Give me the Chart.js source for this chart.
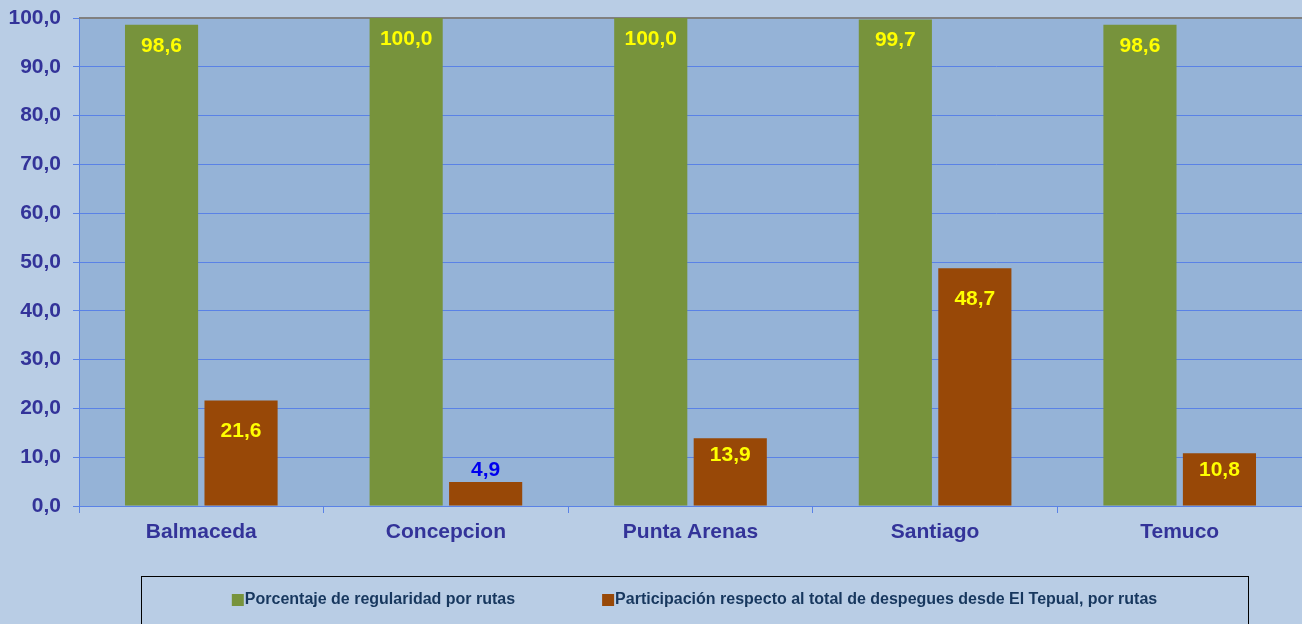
<!DOCTYPE html>
<html>
<head>
<meta charset="utf-8">
<script src="https://cdn.jsdelivr.net/npm/chart.js@4.4.0/dist/chart.umd.min.js"></script>
<style>
  html, body { margin: 0; padding: 0; background: #b9cde5; }
  #wrap { width: 1302px; height: 624px; position: relative; }
</style>
</head>
<body>
<div id="wrap"><canvas id="rutasChart"></canvas></div>
<script>
const categories = ['Balmaceda', 'Concepcion', 'Punta Arenas', 'Santiago', 'Temuco'];
const regularidad = [98.6, 100.0, 100.0, 99.7, 98.6];
const participacion = [21.6, 4.9, 13.9, 48.7, 10.8];
const seriesNames = [
    'Porcentaje de regularidad por rutas',
    'Participación respecto al total de despegues desde El Tepual, por rutas'
];

const FONT = '"Liberation Sans", Arial, sans-serif';
const axisColor = '#333399';
const gridColor = '#5a82e6';

const fmt = v => v.toFixed(1).replace('.', ',');

// plot area fill and grey top border
const plotBg = {
    id: 'plotBg',
    beforeDraw(chart) {
        const { ctx, chartArea: a } = chart;
        ctx.save();
        ctx.fillStyle = '#95b3d7';
        ctx.fillRect(a.left, a.top, a.right - a.left, a.bottom - a.top);
        ctx.restore();
    },
    beforeDatasetsDraw(chart) {
        const { ctx, chartArea: a } = chart;
        ctx.save();
        ctx.strokeStyle = '#808080';
        ctx.lineWidth = 2;
        ctx.beginPath();
        ctx.moveTo(a.left, a.top);
        ctx.lineTo(a.right, a.top);
        ctx.stroke();
        ctx.restore();
    }
};

// value labels on the bars
const barLabels = {
    id: 'barLabels',
    afterDatasetsDraw(chart) {
        const ctx = chart.ctx;
        ctx.save();
        ctx.font = 'bold 21px ' + FONT;
        ctx.textAlign = 'center';
        ctx.textBaseline = 'middle';
        chart.data.datasets.forEach((ds, i) => {
            chart.getDatasetMeta(i).data.forEach((bar, j) => {
                const h = bar.base - bar.y;
                let y, color = '#ffff00';
                if (i === 0) {
                    y = bar.y + 21;
                } else if (h > 70) {
                    y = bar.y + 31;
                } else if (h > 35) {
                    y = bar.y + 17;
                } else {
                    y = bar.y - 12;
                    color = '#0000ee';
                }
                ctx.fillStyle = color;
                ctx.fillText(fmt(ds.data[j]), bar.x, y);
            });
        });
        ctx.restore();
    }
};

// boxed legend below the axis
const boxLegend = {
    id: 'boxLegend',
    afterDraw(chart) {
        const ctx = chart.ctx;
        const box = { left: 141, right: 1248, top: 576 };
        ctx.save();
        ctx.strokeStyle = '#000000';
        ctx.lineWidth = 1;
        ctx.strokeRect(box.left + 0.5, box.top + 0.5, box.right - box.left, 80);
        ctx.font = 'bold 16px ' + FONT;
        ctx.textBaseline = 'middle';
        const sq = 12, gap = 1, spacing = 87;
        const widths = chart.data.datasets.map(ds => ctx.measureText(ds.label).width);
        const total = widths.reduce((s, w) => s + sq + gap + w, 0) + spacing;
        let x = (box.left + box.right) / 2 - total / 2;
        const cy = 600;
        chart.data.datasets.forEach((ds, i) => {
            ctx.fillStyle = ds.backgroundColor;
            ctx.fillRect(x, cy - sq / 2, sq, sq);
            x += sq + gap;
            ctx.fillStyle = '#17375e';
            ctx.textAlign = 'left';
            ctx.fillText(ds.label, x, cy);
            x += widths[i] + spacing;
        });
        ctx.restore();
    }
};

new Chart(document.getElementById('rutasChart').getContext('2d'), {
    type: 'bar',
    data: {
        labels: categories,
        datasets: [{
            label: seriesNames[0],
            data: regularidad,
            backgroundColor: '#77933c',
            categoryPercentage: 0.65,
            barPercentage: 0.92
        }, {
            label: seriesNames[1],
            data: participacion,
            backgroundColor: '#984807',
            categoryPercentage: 0.65,
            barPercentage: 0.92
        }]
    },
    options: {
        responsive: true,
        maintainAspectRatio: false,
        animation: false,
        layout: { padding: { top: 18, right: 0, bottom: 0, left: 0 } },
        plugins: {
            legend: { display: false },
            tooltip: { enabled: false }
        },
        scales: {
            x: {
                afterFit: s => { s.height = 118; s.paddingLeft = 0; s.paddingRight = 0; },
                grid: {
                    offset: true,
                    drawOnChartArea: false,
                    drawTicks: true,
                    tickLength: 7,
                    color: gridColor
                },
                border: { color: gridColor, width: 1 },
                ticks: {
                    color: axisColor,
                    font: { family: FONT, size: 21, weight: 'bold' },
                    padding: 7,
                    maxRotation: 0
                }
            },
            y: {
                min: 0,
                max: 100,
                afterFit: s => { s.width = 79; s.paddingTop = 0; s.paddingBottom = 0; },
                grid: {
                    color: gridColor,
                    tickLength: 6
                },
                border: { color: gridColor, width: 1 },
                ticks: {
                    stepSize: 10,
                    color: axisColor,
                    font: { family: FONT, size: 21, weight: 'bold' },
                    padding: 12,
                    callback: v => fmt(v)
                }
            }
        }
    },
    plugins: [plotBg, barLabels, boxLegend]
});
</script>
</body>
</html>
